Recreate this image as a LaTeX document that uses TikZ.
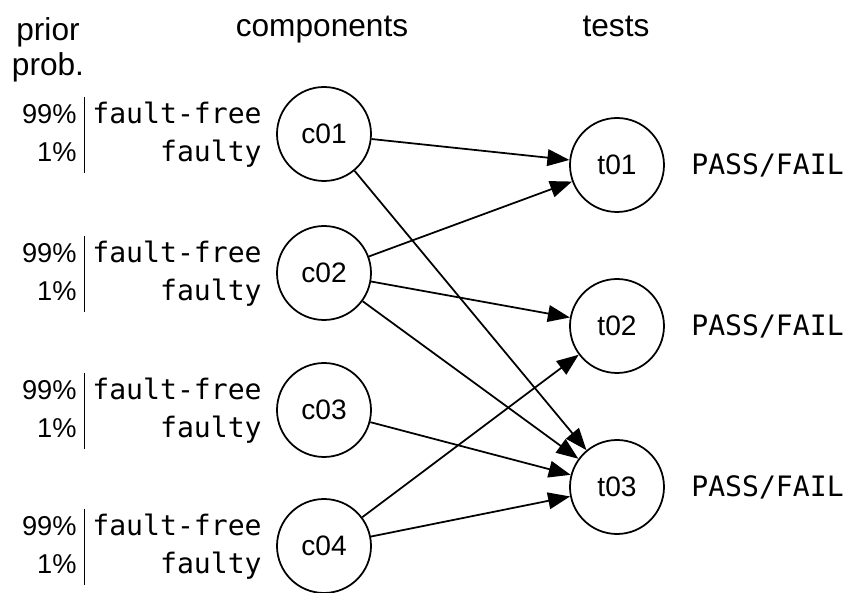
\documentclass[tikz,border=0pt]{standalone}
\usepackage{fontspec}
\setmainfont{Liberation Sans}
\setmonofont{DejaVu Sans Mono}
\usetikzlibrary{positioning}
\usetikzlibrary{arrows.meta}

\setlength{\tabcolsep}{4.5pt}
\setlength{\arrayrulewidth}{1pt}
\newcommand{\priortable}{%
	\fontsize{15.5}{21.6}\selectfont
	\begin{tabular}{@{}r|r@{}}
		99\% & {\fontsize{16}{21.6}\selectfont\ttfamily fault-free}\\
		1\% & {\fontsize{16}{21.6}\selectfont\ttfamily faulty}
	\end{tabular}}

\begin{document}
\begin{tikzpicture}[
			comp/.style={draw, circle, line width=1pt, minimum size=1.88cm, inner sep=0pt, font=\fontsize{16}{19}\selectfont},
			test/.style={comp},
			toplabel/.style={font=\fontsize{18}{20}\selectfont, inner sep=0pt, align=center},
			priors/.style={anchor=east, inner sep=0pt},
			result/.style={anchor=west, inner sep=0pt, font=\fontsize{16}{19}\selectfont\ttfamily},
			link/.style={draw, line width=1pt, -{Triangle[length=12.5pt,width=9.5pt]}}
			]
			
			\useasboundingbox (0,0) rectangle (16.96,11.86);
			
			% Column headings
			\node[toplabel, anchor=north] (prior) at (0.96, 11.52) {prior\\prob.};
			\node[toplabel, anchor=base] (components) at (6.44, 11.12) {components};
			\node[toplabel, anchor=base] (tests) at (12.32, 11.12) {tests};
			
			% Components
			\node[comp] (c01) at (6.48, 9.18) {c01};
			\node[comp] (c02) at (6.48, 6.40) {c02};
			\node[comp] (c03) at (6.48, 3.66) {c03};
			\node[comp] (c04) at (6.48, 0.94) {c04};
			
			% Prior probabilities
			\node[priors] (p01) at (5.24, 9.16) {\priortable};
			\node[priors] (p02) at (5.24, 6.38) {\priortable};
			\node[priors] (p03) at (5.24, 3.64) {\priortable};
			\node[priors] (p04) at (5.24, 0.92) {\priortable};
			
			% Tests
			\node[test] (t01) at (12.34, 8.56) {t01};
			\node[test] (t02) at (12.34, 5.34) {t02};
			\node[test] (t03) at (12.34, 2.12) {t03};
			
			% Outcomes
			\node[result] (r01) at (13.82, 8.56) {PASS/FAIL};
			\node[result] (r02) at (13.82, 5.34) {PASS/FAIL};
			\node[result] (r03) at (13.82, 2.12) {PASS/FAIL};
			
			% Edges from components to tests
			\draw[link] (c01) -- (t01);
			\draw[link] (c01) -- (t03);
			\draw[link] (c02) -- (t01);
			\draw[link] (c02) -- (t02);
			\draw[link] (c02) -- (t03);
			\draw[link] (c03) -- (t03);
			\draw[link] (c04) -- (t02);
			\draw[link] (c04) -- (t03);
			
		\end{tikzpicture}
\end{document}
